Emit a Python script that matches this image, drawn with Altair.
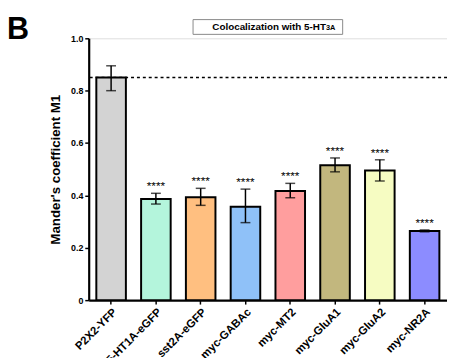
import altair as alt
import pandas as pd

cats = ["P2X2-YFP", "5-HT1A-eGFP", "sst2A-eGFP", "myc-GABAc",
        "myc-MT2", "myc-GluA1", "myc-GluA2", "myc-NR2A"]
means = [0.850, 0.386, 0.393, 0.357, 0.417, 0.515, 0.495, 0.264]
err_lo = [0.800, 0.367, 0.362, 0.296, 0.391, 0.490, 0.455, 0.261]
err_hi = [0.895, 0.408, 0.427, 0.424, 0.446, 0.543, 0.536, 0.268]
stars = ["", "****", "****", "****", "****", "****", "****", "****"]
colors = ["#d3d3d3", "#b4f5dc", "#ffbf80", "#8fc1f8",
          "#ff9e9e", "#c2b77e", "#f6fcc2", "#8c8cff"]
ref_value = 0.85
title_main = "Colocalization with 5-HT"
title_sub = "3A"
panel = "B"

df = pd.DataFrame({"cat": cats, "mean": means, "lo": err_lo, "hi": err_hi,
                   "stars": stars, "color": colors})

FONT = "Liberation Sans"

x = alt.X("cat:N", sort=cats, title=None,
          scale=alt.Scale(paddingInner=0.34, paddingOuter=0.17),
          axis=alt.Axis(labelAngle=315, labelFont=FONT, labelFontWeight="bold",
                        labelFontSize=11.5, labelColor="black", labelPadding=2,
                        domainColor="black", domainWidth=2.2, tickColor="black",
                        tickWidth=1.5, tickSize=4, grid=False))
y = alt.Y("mean:Q", title="Mander's coefficient M1",
          scale=alt.Scale(domain=[0, 1], nice=False),
          axis=alt.Axis(values=[0, 0.2, 0.4, 0.6, 0.8, 1.0],
                        labelExpr="datum.value == 0 ? '0' : format(datum.value, '.1f')",
                        labelFont=FONT, labelFontWeight="bold", labelFontSize=9,
                        labelColor="black", labelPadding=2,
                        titleFont=FONT, titleFontWeight="bold", titleFontSize=13.5,
                        titleColor="black", titlePadding=8,
                        domainColor="black", domainWidth=2.2, tickColor="black",
                        tickWidth=1.5, tickSize=4, grid=False))

base = alt.Chart(df)

ref = alt.Chart(pd.DataFrame({"v": [ref_value]})).mark_rule(
    color="black", strokeDash=[3, 3], strokeWidth=1.5
).encode(y="v:Q")

bars = base.mark_bar(stroke="black", strokeWidth=2).encode(
    x=x, y=y, color=alt.Color("color:N", scale=None))

rules = base.mark_rule(color="black", strokeWidth=1.5).encode(
    x=alt.X("cat:N", sort=cats), y="lo:Q", y2="hi:Q")
caps_hi = base.mark_tick(color="black", thickness=1.5, size=10).encode(
    x=alt.X("cat:N", sort=cats), y="hi:Q")
caps_lo = base.mark_tick(color="black", thickness=1.5, size=10).encode(
    x=alt.X("cat:N", sort=cats), y="lo:Q")

star_text = base.mark_text(font=FONT, fontSize=12, baseline="alphabetic",
                           dy=-3, color="black").encode(
    x=alt.X("cat:N", sort=cats), y="hi:Q", text="stars:N")

box = alt.Chart(pd.DataFrame({"a": [0]})).mark_rect(
    fill="white", stroke="#888888", strokeWidth=1
).encode(x=alt.value(106), x2=alt.value(258), y=alt.value(-19), y2=alt.value(-4))

t_main = alt.Chart(pd.DataFrame({"t": [title_main]})).mark_text(
    font=FONT, fontSize=10, fontWeight="bold", align="right",
    baseline="alphabetic", color="black"
).encode(x=alt.value(241), y=alt.value(-8), text="t:N")
t_sub = alt.Chart(pd.DataFrame({"t": [title_sub]})).mark_text(
    font=FONT, fontSize=7.5, fontWeight="bold", align="left",
    baseline="alphabetic", color="black"
).encode(x=alt.value(241), y=alt.value(-8), text="t:N")

t_panel = alt.Chart(pd.DataFrame({"t": [panel]})).mark_text(
    font=FONT, fontSize=31, fontWeight="bold", align="left",
    baseline="alphabetic", color="black"
).encode(x=alt.value(-83), y=alt.value(1), text="t:N")

chart = alt.layer(ref, bars, rules, caps_hi, caps_lo, star_text,
                  box, t_main, t_sub, t_panel).properties(
    width=364, height=266,
    padding={"left": 82, "top": 28, "right": 0, "bottom": 56},
    autosize="none",
).configure_view(stroke=None).configure(background="white")

chart.save("out.html", embed_options={"renderer": "svg", "actions": False})
